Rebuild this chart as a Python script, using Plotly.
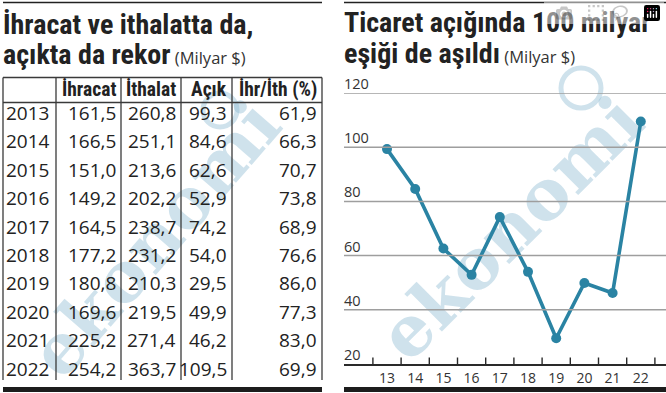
import plotly.graph_objects as go

# ---------------- data ----------------
years = [2013, 2014, 2015, 2016, 2017, 2018, 2019, 2020, 2021, 2022]
ihracat = [161.5, 166.5, 151.0, 149.2, 164.5, 177.2, 180.8, 169.6, 225.2, 254.2]
ithalat = [260.8, 251.1, 213.6, 202.2, 238.7, 231.2, 210.3, 219.5, 271.4, 363.7]
acik = [99.3, 84.6, 62.6, 52.9, 74.2, 54.0, 29.5, 49.9, 46.2, 109.5]
ihr_ith = [61.9, 66.3, 70.7, 73.8, 68.9, 76.6, 86.0, 77.3, 83.0, 69.9]
headers = ["İhracat", "İthalat", "Açık", "İhr/İth (%)"]
x_labels = ["13", "14", "15", "16", "17", "18", "19", "20", "21", "22"]
y_ticks = [20, 40, 60, 80, 100, 120]

W, H = 666, 393
def px(x):
    return x / W
def py(y):
    return 1 - y / H

TITLE_FONT = "Liberation Sans Narrow, Roboto Condensed, DejaVu Sans Condensed, sans-serif"
BODY_FONT = "Open Sans, Noto Sans, sans-serif"
INK = "#222222"
TEAL = "#2a83a3"

fig = go.Figure()

fig.add_trace(go.Scatter(
    x=years, y=acik, mode="lines+markers",
    line=dict(color=TEAL, width=3.6),
    marker=dict(color=TEAL, size=10),
    hoverinfo="skip", showlegend=False,
))

def fmt(v):
    return f"{v:.1f}".replace(".", ",")

annotations = []
shapes = []

# ---- watermark (below everything) ----
wm_color = "rgba(140,185,210,0.42)"
for cx, cy, ang in [(152, 236, -49), (508, 225, -45)]:
    shapes.append(dict(
        type="rect", xref="paper", yref="paper",
        x0=px(cx - 5), x1=px(cx + 5), y0=py(cy + 5), y1=py(cy - 5),
        line=dict(width=0), fillcolor="rgba(0,0,0,0)", layer="below",
        label=dict(text="<b>ekonomi</b>", textangle=ang, textposition="middle center",
                   font=dict(family="DejaVu Serif, serif", size=70, color=wm_color)),
    ))
for cx, cy, r in [(220, 110, 17), (581, 88, 20)]:
    shapes.append(dict(
        type="circle", xref="paper", yref="paper",
        x0=px(cx - r), x1=px(cx + r), y0=py(cy + r), y1=py(cy - r),
        line=dict(width=5, color=wm_color), fillcolor="rgba(0,0,0,0)", layer="below",
    ))

# ---- gridlines (in data units of the y axis) ----
for v in y_ticks[1:]:
    shapes.append(dict(type="line", xref="paper", yref="y",
                       x0=px(344), x1=1, y0=v, y1=v,
                       line=dict(color="#9e9e9e", width=1.5)))
# ---- category boundary ticks on the x axis (in data units) ----
for b in [y - 0.5 for y in years] + [years[-1] + 0.5]:
    shapes.append(dict(type="line", xref="x", yref="paper",
                       x0=b, x1=b, y0=py(364), y1=py(357.5),
                       line=dict(color="#2a2a2a", width=1.4)))

# ---- top rules & bottom bars ----
for x0, x1 in [(3, 322), (344, 666)]:
    shapes.append(dict(type="line", xref="paper", yref="paper",
                       x0=px(x0), x1=px(x1), y0=py(2.5), y1=py(2.5),
                       line=dict(color=INK, width=1.5)))
    shapes.append(dict(type="rect", xref="paper", yref="paper",
                       x0=px(x0), x1=px(x1), y0=py(392), y1=py(387),
                       line=dict(width=0), fillcolor="#1c1c1c"))

# ---- titles ----
sub = "<span style='font-family:Open Sans;font-size:16.5px;font-weight:normal;color:#333'> (Milyar $)</span>"
titles = [
    ("<b>İhracat ve ithalatta da,</b>", 1, 24.5),
    ("<b>açıkta da rekor</b>" + sub, 1, 55),
    ("<b>Ticaret açığında 100 milyar</b>", 342, 22.5),
    ("<b>eşiği de aşıldı</b>" + sub, 342, 53.5),
]
for t, tx, ty in titles:
    annotations.append(dict(text=t, x=px(tx), y=py(ty), xref="paper", yref="paper",
                            xanchor="left", yanchor="middle", showarrow=False,
                            font=dict(family=TITLE_FONT, size=28, color=INK)))

# ---- table ----
col_edges = [3, 56, 121, 181, 232, 322]
tbl_top, hdr_bot, tbl_bot = 77.5, 102.5, 380
line_c = "#3a3a3a"
for xe in col_edges:
    shapes.append(dict(type="line", xref="paper", yref="paper",
                       x0=px(xe), x1=px(xe), y0=py(tbl_top), y1=py(tbl_bot),
                       line=dict(color=line_c, width=1.3)))
for ye in [tbl_top, hdr_bot]:
    shapes.append(dict(type="line", xref="paper", yref="paper",
                       x0=px(col_edges[0]), x1=px(col_edges[-1]), y0=py(ye), y1=py(ye),
                       line=dict(color=line_c, width=1.3)))

for j, h in enumerate(headers):
    annotations.append(dict(
        text="<b>" + h + "</b>", xref="paper", yref="paper",
        x=px(col_edges[j + 2] - 3.5), y=py(90), xanchor="right", yanchor="middle",
        showarrow=False, font=dict(family=TITLE_FONT, size=19.5, color=INK)))

row0, row_step = 113, 28.4
columns = [ihracat, ithalat, acik, ihr_ith]
for i, yr in enumerate(years):
    yc = py(row0 + i * row_step)
    annotations.append(dict(
        text=str(yr), xref="paper", yref="paper", x=px(4), y=yc,
        xanchor="left", yanchor="middle", showarrow=False,
        font=dict(family=BODY_FONT, size=19, color=INK)))
    for j, col in enumerate(columns):
        annotations.append(dict(
            text=fmt(col[i]), xref="paper", yref="paper",
            x=px(col_edges[j + 2] - 3), y=yc, xanchor="right", yanchor="middle",
            showarrow=False, font=dict(family=BODY_FONT, size=19, color=INK)))

# ---- y-axis labels (above gridlines, at the left of the plot) ----
for v in y_ticks:
    annotations.append(dict(
        text=str(v), xref="paper", yref="y", x=px(342), y=v, yshift=-2,
        xanchor="left", yanchor="bottom", showarrow=False,
        font=dict(family=BODY_FONT, size=14.5, color="#333")))

# ---- chart axes ----
x_left = 2013 - (387 - 344) / 28.2
x_right = 2013 + (666 - 387) / 28.2
fig.update_layout(
    width=W, height=H,
    margin=dict(l=0, r=0, t=0, b=0),
    paper_bgcolor="white", plot_bgcolor="rgba(0,0,0,0)",
    showlegend=False,
    annotations=annotations,
    shapes=shapes,
    xaxis=dict(
        domain=[px(344), 1], range=[x_left, x_right],
        tickvals=years, ticktext=x_labels, ticks="", showgrid=False, zeroline=False,
        showline=True, linecolor="#2a2a2a", linewidth=1.5,
        tickfont=dict(family=BODY_FONT, size=14, color="#333"),
        fixedrange=True,
    ),
    yaxis=dict(
        domain=[py(364), py(93)], range=[20, 120],
        tickvals=y_ticks, ticks="", showgrid=False,
        zeroline=False, showline=False, showticklabels=False,
        fixedrange=True,
    ),
)

fig.write_html("out.html",
               post_script="document.body.style.margin='0';document.body.style.overflow='hidden';")
